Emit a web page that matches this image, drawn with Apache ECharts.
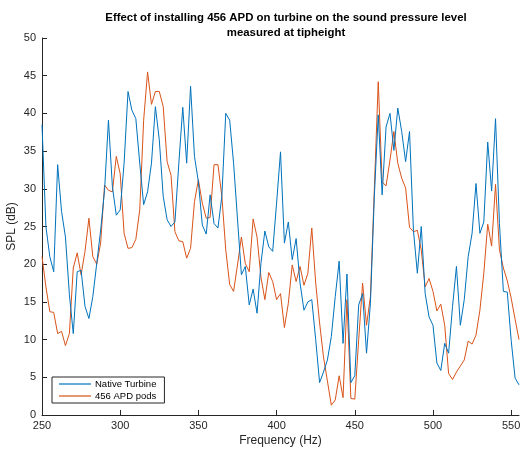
<!DOCTYPE html>
<html>
<head>
<meta charset="utf-8">
<script src="https://cdn.jsdelivr.net/npm/echarts@6/dist/echarts.min.js"></script>
<style>
  html, body { margin: 0; padding: 0; background: #fff; }
  #chart { width: 522px; height: 454px; }
</style>
</head>
<body>
<div id="chart"></div>
<script>
// frequency grid: 250 Hz to 555 Hz in 2.5 Hz steps
const freqStart = 250;
const freqStep = 2.5;

const nativeTurbine = [
  38.5, 25, 21, 19, 33.2, 27, 23.6, 16, 10.8, 19,
  19.2, 14.4, 12.8, 15.7, 20.1, 24.5, 29.8, 39.1, 30.3, 26.5,
  27.2, 33.4, 42.9, 40.4, 39.3, 33.4, 27.9, 29.6, 33.4, 40.9,
  36.5, 29, 25.9, 25, 25.6, 33.4, 40.8, 33.4, 43.6, 34.3,
  30.9, 25.2, 24, 29.2, 25.4, 24.8, 29, 40, 39.1, 33.4,
  26, 18.6, 19.7, 14.6, 16.7, 13.5, 20.1, 24.4, 22.3, 21.7,
  28.1, 34.9, 22.8, 25.6, 20.6, 23.4, 17.5, 13.9, 15, 15.3,
  10, 4.3, 5.7, 7.3, 10.4, 15.7, 20.4, 9.5, 18.7, 4.3,
  5.2, 14.6, 16.1, 8.2, 14.8, 29, 39.8, 29.2, 38.2, 40,
  35.1, 40.7, 37.6, 33.6, 37.6, 24.5, 18.8, 25, 16.1, 13,
  11.9, 6.9, 5.9, 9.5, 8.2, 14.4, 19.7, 11.9, 15.3, 21,
  24.1, 30.7, 24.1, 25.6, 36.2, 29.7, 39.3, 25.4, 16.4, 16.3,
  9.9, 4.9, 4
];

const apdPods = [
  21, 17, 13.7, 13.6, 10.8, 11.1, 9.2, 10.8, 19.5, 21.5,
  18.6, 21.7, 26.1, 21, 20, 22.8, 30.5, 29.8, 29.6, 34.3,
  32, 24.1, 22.1, 22.2, 23.3, 27.2, 39.1, 45.5, 41.2, 42.9,
  42.9, 40.9, 33.6, 31.8, 24.3, 23.1, 23, 20.8, 22.1, 28.3,
  31.2, 28.1, 26.1, 26.2, 33.2, 33.2, 29, 21.9, 17.3, 16.4,
  19.9, 23.6, 20.1, 19, 26, 23.6, 18.3, 15.3, 18.9, 17.7,
  15.3, 16.1, 11.6, 14.8, 19.9, 17.7, 19.7, 17.2, 18.8, 24.8,
  17.5, 12.2, 7.7, 4.5, 1.3, 2, 5.2, 2.3, 15.3, 2.2,
  2.1, 10, 17.5, 11.9, 15.7, 30, 44.2, 30.9, 30.4, 33.8,
  37.6, 33.4, 31.4, 30.1, 24.9, 24.3, 24.5, 21.9, 17, 18.1,
  16.4, 13.8, 14.7, 11.9, 5.5, 4.7, 5.7, 6.5, 7.3, 9.8,
  9.4, 10.6, 13.9, 18.8, 25.3, 22.4, 30.6, 21.9, 19.5, 17.8,
  15.5, 12.7, 10
];

const xTicks = [250, 300, 350, 400, 450, 500, 550];
const yTicks = [0, 5, 10, 15, 20, 25, 30, 35, 40, 45, 50];

const freqs = nativeTurbine.map((_, i) => freqStart + freqStep * i);
const toPairs = vals => vals.map((v, i) => [freqs[i], v]);

const axisColor = '#262626';
const font = 'Liberation Sans, Arial, Helvetica, sans-serif';

const chart = echarts.init(document.getElementById('chart'), null, { renderer: 'canvas' });

chart.setOption({
  animation: false,
  backgroundColor: '#fff',
  title: {
    text: 'Effect of installing 456 APD on turbine on the sound pressure level\nmeasured at tipheight',
    left: 281,
    textAlign: 'center',
    top: 5,
    textStyle: { fontFamily: font, fontSize: 11.4, fontWeight: 'bold', color: '#000', lineHeight: 15 }
  },
  grid: { left: 42, right: 3, top: 38, bottom: 39, outerBoundsMode: 'none', containLabel: false },
  legend: {
    orient: 'vertical',
    left: 52,
    top: 377,
    icon: 'rect',
    itemWidth: 32,
    itemHeight: 1.2,
    itemGap: 2,
    padding: [2, 8, 2, 7],
    borderColor: axisColor,
    borderWidth: 1,
    backgroundColor: '#fff',
    textStyle: { fontFamily: font, fontSize: 9.5, color: '#000', padding: [0, 0, 0, -1] },
    data: ['Native Turbine', '456 APD pods']
  },
  xAxis: {
    type: 'value',
    min: 250,
    max: 555,
    name: 'Frequency (Hz)',
    nameLocation: 'middle',
    nameGap: 20,
    nameMoveOverlap: false,
    nameTextStyle: { fontFamily: font, fontSize: 12, color: axisColor },
    axisLine: { lineStyle: { color: axisColor, width: 1 } },
    axisTick: { inside: true, length: 5, customValues: xTicks, lineStyle: { color: axisColor } },
    axisLabel: { customValues: xTicks, fontFamily: font, fontSize: 11, color: axisColor, margin: 5 },
    splitLine: { show: false }
  },
  yAxis: {
    type: 'value',
    min: 0,
    max: 50,
    interval: 5,
    name: 'SPL (dB)',
    nameLocation: 'middle',
    nameGap: 24,
    nameMoveOverlap: false,
    nameTextStyle: { fontFamily: font, fontSize: 12, color: axisColor },
    axisLine: { show: true, lineStyle: { color: axisColor, width: 1 } },
    axisTick: { show: true, inside: true, length: 5, customValues: yTicks, lineStyle: { color: axisColor } },
    axisLabel: { customValues: yTicks, fontFamily: font, fontSize: 11, color: axisColor, margin: 6 },
    splitLine: { show: false }
  },
  series: [
    {
      name: 'Native Turbine',
      type: 'line',
      data: toPairs(nativeTurbine),
      symbol: 'none',
      color: '#0072BD',
      lineStyle: { width: 1, color: '#0072BD' },
      z: 3
    },
    {
      name: '456 APD pods',
      type: 'line',
      data: toPairs(apdPods),
      symbol: 'none',
      color: '#D95319',
      lineStyle: { width: 1, color: '#D95319' },
      z: 2
    }
  ]
});
</script>
</body>
</html>
